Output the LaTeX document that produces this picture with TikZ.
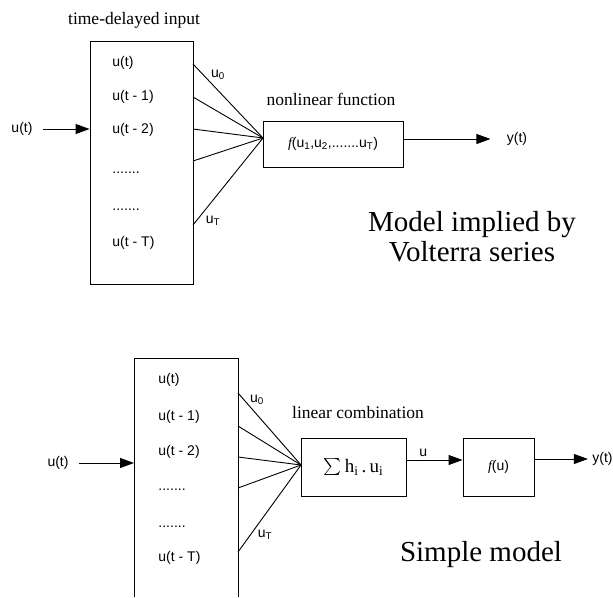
\documentclass[tikz,border=0pt]{standalone}
\usepackage{fontspec}
\setmainfont{Liberation Sans}
\newfontfamily\serif{Liberation Serif}
\usetikzlibrary{arrows.meta}

\newcommand{\lowsub}[1]{\textsubscript{#1}}
\newcommand{\dotrow}{.......}

\tikzset{
  blk/.style={draw, inner sep=0pt, font=\fontsize{14}{16}\selectfont},
  lbl/.style={font=\fontsize{14}{16}\selectfont, inner sep=0pt},
  caplbl/.style={font=\serif\fontsize{17.5}{20}\selectfont, inner sep=0pt},
  ttl/.style={font=\serif\fontsize{29}{30}\selectfont, inner sep=0pt, align=center},
}

\begin{document}
\begin{tikzpicture}[>={Triangle[length=14pt,width=10pt]}, x=1pt, y=-1pt, line width=0.9pt]
  \useasboundingbox (0,0) rectangle (613,597);

  % Volterra model
  \node[blk, minimum width=103pt, minimum height=243pt] (tdbox) at (141.5,162.5) {};
  \node[caplbl] (tdlab) at (134,20) {time-delayed input};
  \foreach \txt/\y [count=\i] in {u(t)/63, u(t - 1)/97, u(t - 2)/130, \dotrow/173, \dotrow/210, u(t - T)/243}
    \node[lbl, anchor=west] (td\i) at (112,\y) {\txt};

  \node[lbl] (uin) at (22,129) {u(t)};
  \draw[->] ([xshift=10pt]uin.east) -- (uin -| tdbox.west);

  \node[blk, minimum width=140pt, minimum height=46pt] (fbox) at (333,144)
    {{\serif\itshape f}(u\lowsub{1},u\lowsub{2},\dotrow u\lowsub{T})};
  \node[caplbl] (flab) at (331,99) {nonlinear function};
  \coordinate (fin) at (263,138);
  \foreach \y [count=\i] in {64,97,129,161,225} {
    \coordinate (tp\i) at (193,\y);
    \draw (tp\i) -- (fin);
  }
  \node[lbl] (u0top) at (218,75) {u\lowsub{0}};
  \node[lbl] (uTtop) at (213,221) {u\lowsub{T}};

  \node[lbl] (ytop) at (517,139) {y(t)};
  \draw[->] (fbox.east |- ytop) -- ([xshift=-16pt]ytop.west);

  \node[ttl] (volt) at (472,237) {Model implied by\\Volterra series};

  % Simple model
  \draw (134,597) |- (238,358) -- (238,597);
  \coordinate (din) at (134,463);
  \foreach \txt/\y [count=\i] in {u(t)/380, u(t - 1)/417, u(t - 2)/452, \dotrow/490, \dotrow/527, u(t - T)/558}
    \node[lbl, anchor=west] (sd\i) at (158,\y) {\txt};

  \node[lbl] (ubot) at (58,463) {u(t)};
  \draw[->] ([xshift=10pt]ubot.east) -- (din);

  \node[blk, minimum width=105pt, minimum height=58pt] (sbox) at (353.5,467)
    {\serif\fontsize{19}{21}\selectfont\raisebox{-1.5pt}{\scalebox{1.7}{$\sum$}}\,h\lowsub{i}\,.\,u\lowsub{i}};
  \node[caplbl] (slab) at (358,413) {linear combination};
  \coordinate (sin) at (301,465);
  \foreach \y [count=\i] in {393,426,457,488,552} {
    \coordinate (sp\i) at (238,\y);
    \draw (sp\i) -- (sin);
  }
  \node[lbl] (u0bot) at (257,400) {u\lowsub{0}};
  \node[lbl] (uTbot) at (265,535) {u\lowsub{T}};

  \node[blk, minimum width=71pt, minimum height=58pt] (fubox) at (498.5,467)
    {{\serif\itshape f}(u)};
  \coordinate (lvl) at (0,460);
  \draw[->] (sbox.east |- lvl) -- (fubox.west |- lvl)
    node[lbl, pos=0.3, anchor=south, yshift=3pt] (ulab) {u};

  \node[lbl, anchor=east] (ybot) at (613,459) {y(t)};
  \draw[->] (fubox.east |- ybot) -- ([xshift=-4pt]ybot.west);

  \node[ttl] (simp) at (481,555) {Simple model};
\end{tikzpicture}
\end{document}
